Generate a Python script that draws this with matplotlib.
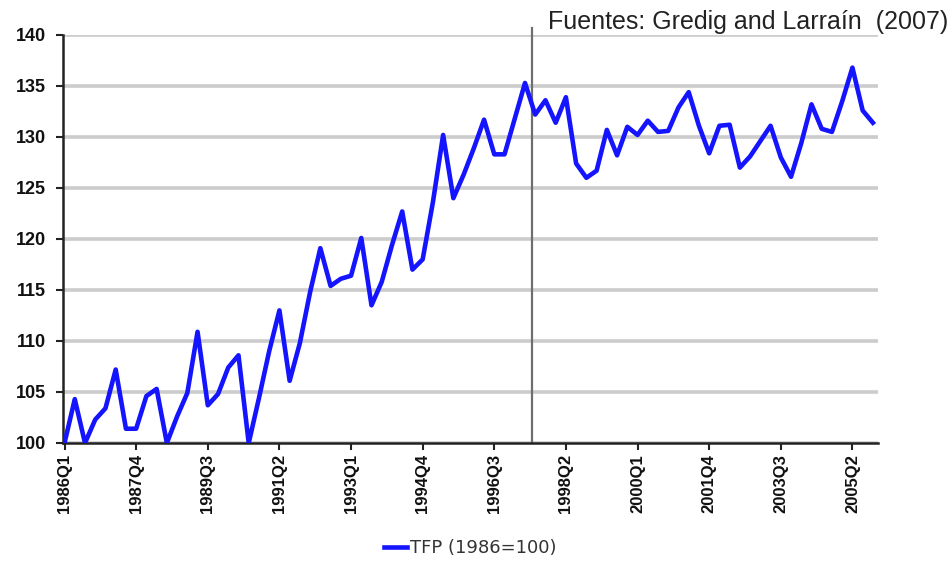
import numpy as np
import matplotlib.pyplot as plt

# quarterly categories 1986Q1 .. 2005Q4
quarters = [f"{y}Q{q}" for y in range(1986, 2006) for q in range(1, 5)]

# TFP index (1986=100)
tfp = [100.0, 104.3, 100.0, 102.3, 103.4, 107.2, 101.4, 101.4, 104.6, 105.3,
       100.0, 102.6, 104.9, 110.9, 103.7, 104.8, 107.4, 108.6, 100.0, 104.4,
       109.0, 113.0, 106.1, 109.8, 114.8, 119.1, 115.4, 116.1, 116.4, 120.1,
       113.5, 115.8, 119.4, 122.7, 117.0, 118.0, 123.6, 130.2, 124.0, 126.3,
       128.9, 131.7, 128.3, 128.3, 131.8, 135.3, 132.2, 133.6, 131.4, 133.9,
       127.4, 126.0, 126.7, 130.7, 128.2, 131.0, 130.2, 131.6, 130.5, 130.6,
       132.9, 134.4, 131.1, 128.4, 131.1, 131.2, 127.0, 128.1, 129.6, 131.1,
       128.0, 126.1, 129.4, 133.2, 130.8, 130.5, 133.5, 136.8, 132.6, 131.4]

tick_labels = ["1986Q1", "1987Q4", "1989Q3", "1991Q2", "1993Q1", "1994Q4",
               "1996Q3", "1998Q2", "2000Q1", "2001Q4", "2003Q3", "2005Q2"]
y_ticks = [100, 105, 110, 115, 120, 125, 130, 135, 140]
break_pos = 45.65  # vertical separator, mid 1997
source = "Fuentes: Gredig and Larraín  (2007)"
series_label = "TFP (1986=100)"

fig = plt.figure(figsize=(9.53, 5.61), dpi=100)
ax = fig.add_axes([63 / 953, 1 - 443 / 561, (878 - 63) / 953, (443 - 35) / 561])

x = np.arange(len(tfp))
ax.plot(x, tfp, color='#1414ff', lw=3.3, label=series_label, zorder=3,
        solid_joinstyle='round')
ax.axvline(break_pos, ymin=0, ymax=1.017, color='#6e6e6e', lw=1.6,
           clip_on=False, zorder=2)

ax.set_xlim(-0.15, 79.5)
ax.set_ylim(100, 140)
ax.set_yticks(y_ticks)
ax.set_yticklabels([str(v) for v in y_ticks], fontsize=13, fontweight='bold',
                   family='Liberation Sans', color='#111111')
ax.set_xticks([quarters.index(t) for t in tick_labels])
ax.set_xticklabels(tick_labels, rotation=90, fontsize=12, fontweight='bold',
                   family='Liberation Sans', color='#111111')
ax.yaxis.grid(True, color='#cccccc', lw=2.6)
ax.set_axisbelow(True)

for s in ['top', 'right']:
    ax.spines[s].set_visible(False)
for s in ['left', 'bottom']:
    ax.spines[s].set_linewidth(1.8)
    ax.spines[s].set_color('#222222')
ax.tick_params(axis='both', direction='out', length=5, width=1.5,
               color='#222222', pad=3)
ax.tick_params(axis='y', pad=7)

fig.legend(loc='center', bbox_to_anchor=(470 / 953, 1 - 548 / 561),
           frameon=False, handlelength=1.3, handletextpad=0.15,
           prop={'size': 13, 'family': 'DejaVu Sans'}, labelcolor='#333333')

fig.text(948 / 953, 1 - 22 / 561, source, ha='right', va='center',
         fontsize=18, family='Liberation Sans', color='#222222')

fig.savefig('out.png', dpi=100)
